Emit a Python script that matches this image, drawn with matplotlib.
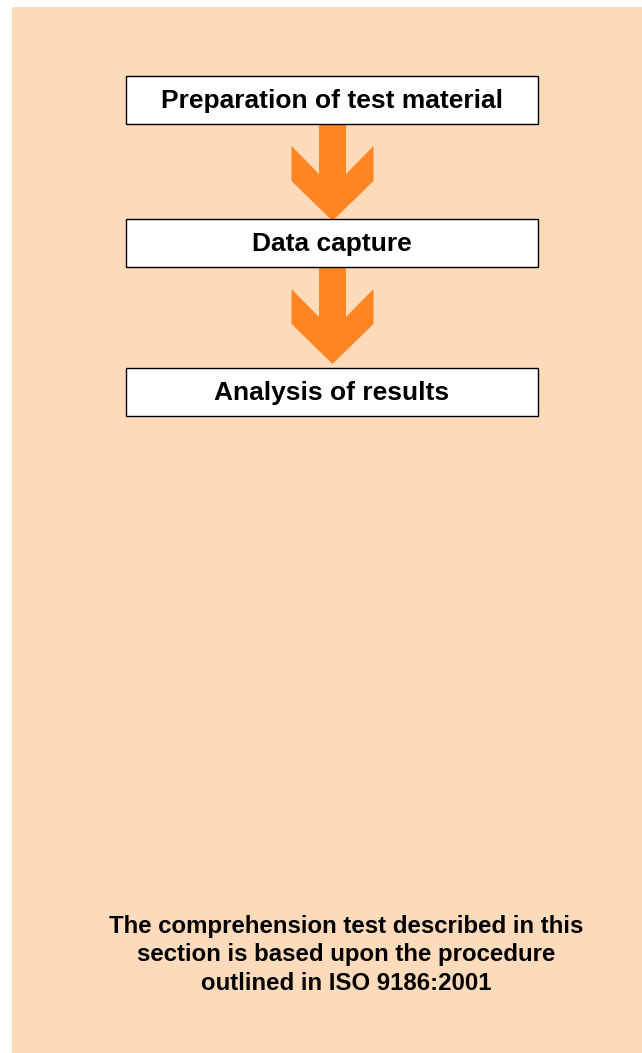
import matplotlib.pyplot as plt
from matplotlib.patches import Rectangle, Polygon

# ---- content ----
step_labels = ['Preparation of test material', 'Data capture', 'Analysis of results']
note_lines = ['The comprehension test described in this',
              'section is based upon the procedure',
              'outlined in ISO 9186:2001']

# ---- layout (pixel coords, y down) ----
W, H = 642, 1053
PANEL = (12, 7)                      # top-left of peach panel
BOX_X0, BOX_X1 = 126, 538
BOX_TOPS = [76, 219, 368]
BOX_H = 48
ARROW_CX = 332.5
SHAFT_HW, WING_HW = 13.5, 41

BG = '#FDDBBB'
ORANGE = '#FF8522'

plt.rcParams['font.family'] = ['Liberation Sans', 'DejaVu Sans']

fig = plt.figure(figsize=(W / 100, H / 100), dpi=100)
fig.patch.set_facecolor('white')
ax = fig.add_axes([0, 0, 1, 1])
ax.set_xlim(0, W)
ax.set_ylim(H, 0)
ax.axis('off')

ax.add_patch(Rectangle(PANEL, W - PANEL[0], H - PANEL[1], facecolor=BG,
                       edgecolor='none', zorder=0))


def chevron_arrow(top):
    c = ARROW_CX
    pts = [(c - SHAFT_HW, top), (c - SHAFT_HW, top + 50), (c - WING_HW, top + 22),
           (c - WING_HW, top + 57), (c, top + 97), (c + WING_HW, top + 57),
           (c + WING_HW, top + 22), (c + SHAFT_HW, top + 50), (c + SHAFT_HW, top)]
    ax.add_patch(Polygon(pts, closed=True, facecolor=ORANGE, edgecolor='none', zorder=1))


for i, label in enumerate(step_labels):
    top = BOX_TOPS[i]
    ax.add_patch(Rectangle((BOX_X0, top), BOX_X1 - BOX_X0, BOX_H, facecolor='white',
                           edgecolor='black', linewidth=1.0, zorder=2))
    ax.text((BOX_X0 + BOX_X1) / 2, top + BOX_H / 2 + 1, label, ha='center', va='center',
            fontsize=19, fontweight='bold', color='black', zorder=3)
    if i < len(step_labels) - 1:
        chevron_arrow(top + BOX_H)

ax.text(346, 955, '\n'.join(note_lines), ha='center', va='center', fontsize=17.3,
        fontweight='bold', color='black', linespacing=1.3)

fig.savefig('out.png', dpi=100, facecolor=fig.get_facecolor())
